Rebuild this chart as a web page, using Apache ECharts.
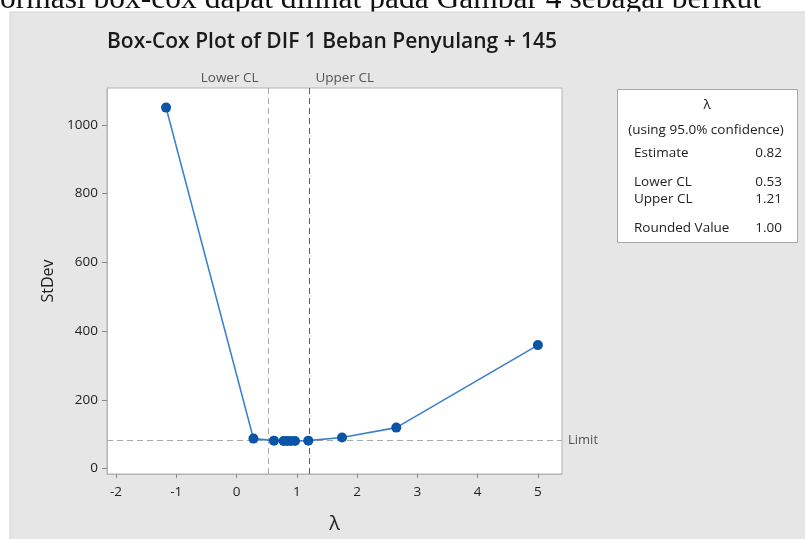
<!DOCTYPE html>
<html>
<head>
<meta charset="utf-8">
<script src="https://cdn.jsdelivr.net/npm/echarts@6/dist/echarts.min.js"></script>
<style>
html,body{margin:0;padding:0;background:#fff;}
#chart{width:805px;height:539px;}
</style>
</head>
<body>
<div id="chart"></div>
<script>
// Data
var lambdas = [-1.17, 0.28, 0.62, 0.78, 0.84, 0.90, 0.97, 1.19, 1.75, 2.65, 5.0];
var stdevs  = [1050, 87, 81, 80, 80, 80, 80, 81, 90, 119, 359];
var limitValue = 83;
var lowerCL = 0.53;
var upperCL = 1.21;
var xTicks = [-2, -1, 0, 1, 2, 3, 4, 5];
var yTicks = [0, 200, 400, 600, 800, 1000];
var tableRows = [
  ['Estimate', '0.82'],
  ['Lower CL', '0.53'],
  ['Upper CL', '1.21'],
  ['Rounded Value', '1.00']
];
var titleText = 'Box-Cox Plot of DIF 1 Beban Penyulang + 145';
var docText = 'ormasi box-cox dapat dilihat pada Gambar 4 sebagai berikut';

var FONT = '"Open Sans", "Noto Sans", sans-serif';
var chart = echarts.init(document.getElementById('chart'));

var points = lambdas.map(function (l, i) { return [l, stdevs[i]]; });

var option = {
  animation: false,
  backgroundColor: '#ffffff',
  grid: { left: 107, right: 243, top: 88, bottom: 65, show: true, backgroundColor: '#ffffff', borderColor: '#b4b4b4', borderWidth: 1 },
  xAxis: {
    type: 'value', min: -2.15, max: 5.4,
    name: 'λ', nameLocation: 'middle', nameGap: 40,
    nameTextStyle: { fontFamily: FONT, fontSize: 20, color: '#222' },
    axisLine: { show: true, onZero: false, lineStyle: { color: '#b4b4b4' } },
    axisTick: { show: true, length: 4, customValues: xTicks, lineStyle: { color: '#888' } },
    axisLabel: { customValues: xTicks, fontFamily: FONT, fontSize: 13.5, color: '#1e1e1e', margin: 11 },
    splitLine: { show: false }
  },
  yAxis: {
    type: 'value', min: -16, max: 1107,
    name: 'StDev', nameLocation: 'middle', nameGap: 43, nameRotate: 90,
    nameTextStyle: { fontFamily: FONT, fontSize: 16, color: '#1e1e1e' },
    axisLine: { show: true, onZero: false, lineStyle: { color: '#b4b4b4' } },
    axisTick: { show: true, length: 5, customValues: yTicks, lineStyle: { color: '#888' } },
    axisLabel: { customValues: yTicks, fontFamily: FONT, fontSize: 13.5, color: '#1e1e1e', margin: 9,
      formatter: function (v) { return String(v); } },
    splitLine: { show: false }
  },
  series: [{
    type: 'line',
    data: points,
    symbol: 'circle', symbolSize: 10,
    lineStyle: { color: '#3a7fd0', width: 1.6 },
    itemStyle: { color: '#0a55a8' },
    z: 5,
    markLine: {
      silent: true, symbol: 'none', animation: false,
      data: [
        { yAxis: limitValue, lineStyle: { color: '#a8a8a8', type: [6, 4], width: 1 },
          label: { show: true, position: 'end', formatter: 'Limit', fontFamily: FONT, fontSize: 13, color: '#555', distance: 6 } },
        { xAxis: lowerCL, lineStyle: { color: '#a8a8a8', type: [6, 4], width: 1 }, label: { show: false } },
        { xAxis: upperCL, lineStyle: { color: '#606060', type: [6, 4], width: 1 }, label: { show: false } }
      ]
    }
  }]
};
chart.setOption(option);

var lx = chart.convertToPixel({ gridIndex: 0 }, [lowerCL, 0])[0];
var ux = chart.convertToPixel({ gridIndex: 0 }, [upperCL, 0])[0];

var FS = 13.5;
var graphics = [
  { type: 'rect', z: -10, shape: { x: 10, y: 12, width: 800, height: 530 }, style: { fill: '#e6e6e6', stroke: '#d4d4d4', lineWidth: 1 } },
  { type: 'text', z: -11, left: 0, top: -16, style: { text: docText, fontFamily: '"Liberation Serif", serif', fontSize: 31.5, fill: '#111' } },
  { type: 'text', x: 107, y: 42, style: { text: titleText, fontFamily: FONT, fontSize: 21, fontWeight: 600, fill: '#1a1a1a', verticalAlign: 'middle' } },
  { type: 'text', x: lx - 10, y: 78, style: { text: 'Lower CL', fontFamily: FONT, fontSize: FS, fill: '#555', align: 'right', verticalAlign: 'middle' } },
  { type: 'text', x: ux + 6, y: 78, style: { text: 'Upper CL', fontFamily: FONT, fontSize: FS, fill: '#555', align: 'left', verticalAlign: 'middle' } },
  { type: 'rect', shape: { x: 617.5, y: 89.5, width: 180, height: 153 }, style: { fill: '#ffffff', stroke: '#a8a8a8', lineWidth: 1 } },
  { type: 'text', x: 707, y: 105, style: { text: 'λ', fontFamily: FONT, fontSize: FS, fill: '#222', align: 'center', verticalAlign: 'middle' } },
  { type: 'text', x: 706, y: 130, style: { text: '(using 95.0% confidence)', fontFamily: FONT, fontSize: FS, fill: '#222', align: 'center', verticalAlign: 'middle' } }
];
var rowY = [153, 182, 199, 228];
tableRows.forEach(function (r, i) {
  graphics.push({ type: 'text', x: 634, y: rowY[i], style: { text: r[0], fontFamily: FONT, fontSize: FS, fill: '#222', align: 'left', verticalAlign: 'middle' } });
  graphics.push({ type: 'text', x: 782, y: rowY[i], style: { text: r[1], fontFamily: FONT, fontSize: FS, fill: '#222', align: 'right', verticalAlign: 'middle' } });
});
chart.setOption({ graphic: graphics });
</script>
</body>
</html>
